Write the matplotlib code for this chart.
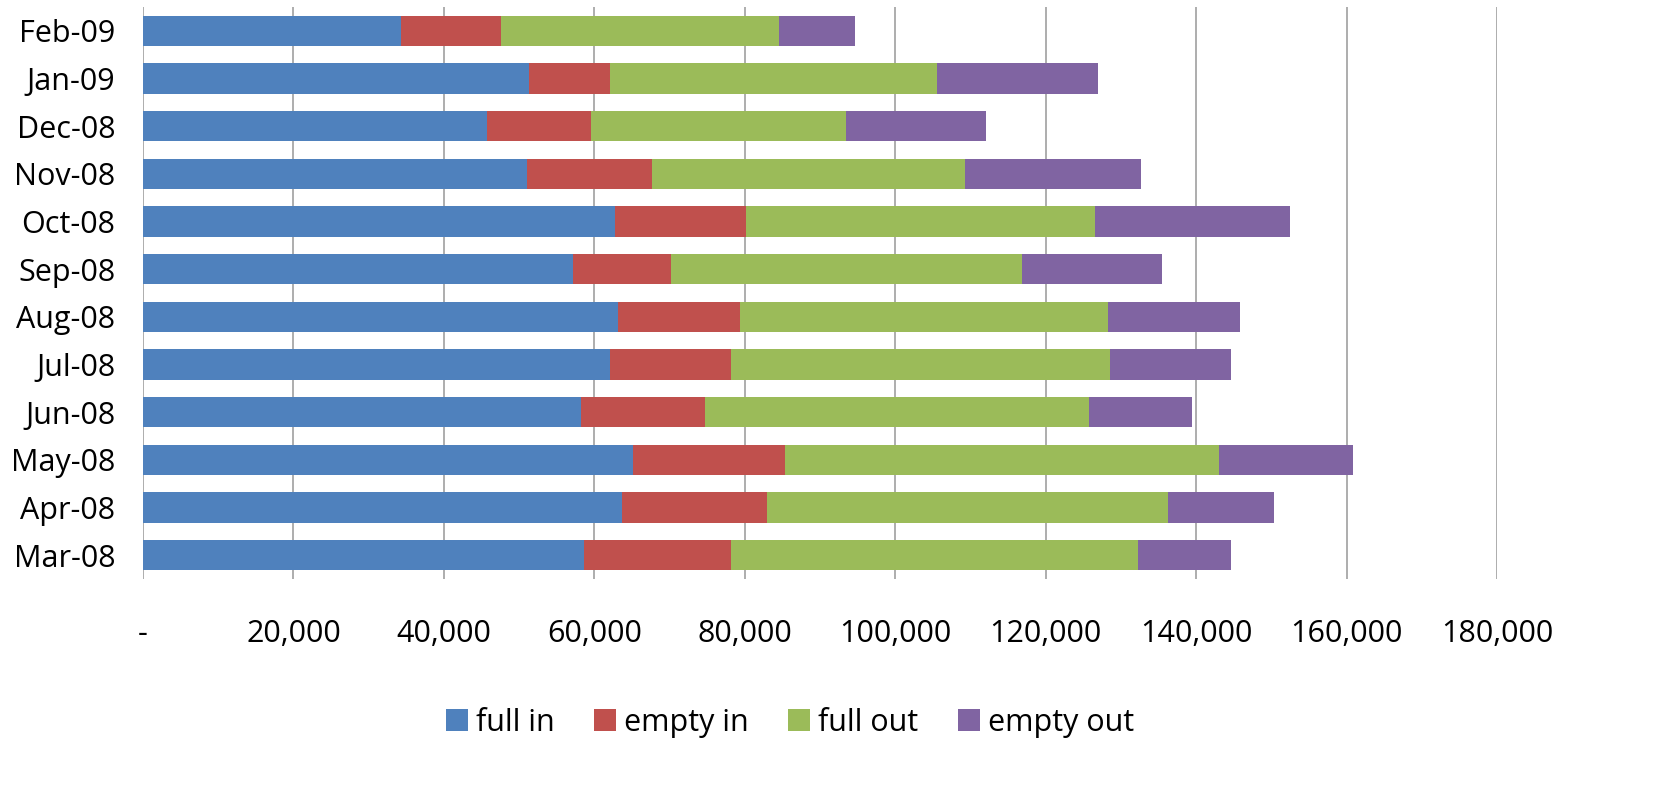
import numpy as np
import matplotlib.pyplot as plt
from matplotlib import rcParams

rcParams['font.family'] = ['Open Sans', 'DejaVu Sans']

# months, bottom to top as drawn
months = ['Mar-08', 'Apr-08', 'May-08', 'Jun-08', 'Jul-08', 'Aug-08',
          'Sep-08', 'Oct-08', 'Nov-08', 'Dec-08', 'Jan-09', 'Feb-09']

full_in = [58600, 63700, 65200, 58200, 62100, 63200, 57200, 62800, 51100, 45700, 51300, 34300]
empty_in = [19600, 19300, 20200, 16500, 16100, 16100, 13000, 17400, 16500, 13900, 10800, 13300]
full_out = [54100, 53200, 57600, 51100, 50300, 49000, 46700, 46300, 41700, 33900, 43500, 37000]
empty_out = [12400, 14100, 17800, 13600, 16200, 17600, 18600, 26000, 23400, 18600, 21300, 10100]

series = [('full in', full_in, '#4f81bd'),
          ('empty in', empty_in, '#c0504d'),
          ('full out', full_out, '#9bbb59'),
          ('empty out', empty_out, '#8064a2')]

fs = 22

fig = plt.figure(figsize=(16.58, 7.85), dpi=100)
ax = fig.add_axes([143 / 1658, 1 - 579 / 785, (1497 - 143) / 1658, 572 / 785])

y = np.arange(len(months))
left = np.zeros(len(months))
for name, vals, col in series:
    ax.barh(y, vals, left=left, height=0.63, color=col, label=name, zorder=3)
    left += np.array(vals)

ax.set_xlim(0, 180000)
ax.set_ylim(-0.5, len(months) - 0.5)
ax.set_yticks(y)
ax.set_yticklabels(months, fontsize=fs)
xt = np.arange(0, 180001, 20000)
ax.set_xticks(xt)
ax.set_xticklabels(['-'] + [f'{v:,}' for v in xt[1:]], fontsize=fs)
ax.tick_params(axis='x', length=0, pad=29)
ax.tick_params(axis='y', length=0, pad=20)
ax.grid(axis='x', color='#a0a0a0', linewidth=1.2, zorder=0)
for s in ax.spines.values():
    s.set_visible(False)

ax.legend(loc='center', bbox_to_anchor=(790 / 1658, 1 - 723 / 785), bbox_transform=fig.transFigure,
          ncol=4, frameon=False, fontsize=fs, handlelength=0.72, handleheight=0.72,
          handletextpad=0.25, columnspacing=1.3)

plt.savefig('out.png', dpi=100)
